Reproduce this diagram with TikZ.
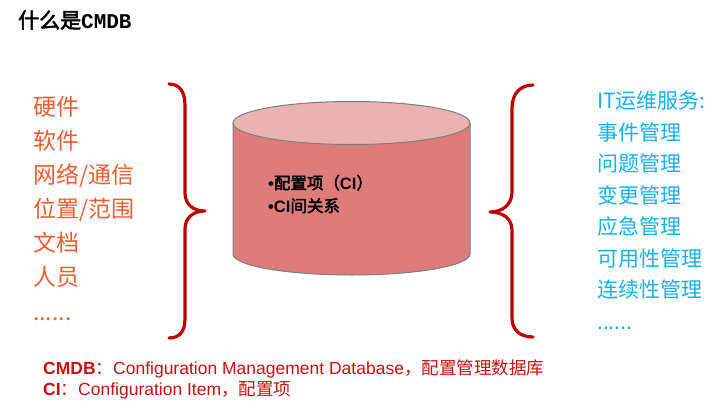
\documentclass[tikz,border=0pt]{standalone}
\usepackage{fontspec}
\setmainfont{Noto Sans CJK SC}[AutoFakeBold=2.5]
\newfontfamily\latinfont{Liberation Sans}
\setmonofont{Liberation Mono}
\usepackage{tikz}

\definecolor{itemorange}{RGB}{240,92,50}
\definecolor{itemblue}{RGB}{20,176,235}
\definecolor{bracered}{RGB}{192,0,0}
\definecolor{notered}{RGB}{200,16,16}
\definecolor{drumbody}{RGB}{222,124,124}
\definecolor{drumtop}{RGB}{235,178,178}
\definecolor{drumline}{RGB}{125,125,125}

\begin{document}
\begin{tikzpicture}[x=1pt, y=-1pt,
    leftitem/.style={anchor=base west, inner sep=0pt, text=itemorange, font=\fontsize{23}{23}\selectfont},
    rightitem/.style={anchor=base west, inner sep=0pt, text=itemblue, font=\fontsize{21}{21}\selectfont},
    drumtext/.style={anchor=base west, inner sep=0pt, font=\fontsize{16.5}{16.5}\selectfont\bfseries},
    noteline/.style={anchor=base west, inner sep=0pt, text=notered, font=\fontsize{17.5}{17.5}\selectfont},
    curly/.style={draw=bracered, line width=3.2pt, line cap=round, line join=round}]
                    \useasboundingbox (0,0) rectangle (721,407);
                    % title
                    \node[anchor=base west, inner sep=0pt, font=\fontsize{21}{21}\selectfont\bfseries] (title) at (18,28) {什么是{\ttfamily\bfseries CMDB}};
                    % left list
                    \node[leftitem] (hw) at (33,115) {硬件};
                    \node[leftitem] (sw) at (33,149) {软件};
                    \node[leftitem] (net) at (33,183) {网络/通信};
                    \node[leftitem] (loc) at (33,217) {位置/范围};
                    \node[leftitem] (doc) at (33,251) {文档};
                    \node[leftitem] (ppl) at (33,285) {人员};
                    \node[leftitem] (lmore) at (33,320) {......};
                    % braces
                    \draw[curly] (169,84) .. controls (180,84) and (185,92) .. (185,106) -- (185,193)
                        .. controls (185,205) and (194,211) .. (205,211)
                        .. controls (194,211) and (185,217) .. (185,229) -- (185,318)
                        .. controls (185,331) and (180,338) .. (169,338);
                    \draw[curly] (533,85) .. controls (520,85) and (512,94) .. (512,108) -- (512,192)
                        .. controls (512,205) and (502,212) .. (490,212)
                        .. controls (502,212) and (512,218) .. (512,230) -- (512,318)
                        .. controls (512,330) and (520,337) .. (533,337);
                    % database drum
                    \draw[drumline, fill=drumbody, line width=1pt] (233,123) -- (233,254)
                        arc[start angle=180, end angle=0, x radius=118.5, y radius=21] -- (470,123);
                    \draw[drumline, fill=drumtop, line width=1pt] (351.5,123) ellipse[x radius=118.5, y radius=21.5];
                    \node[drumtext] (ciitem) at (268,189) {{\latinfont•}配置项（{\latinfont CI}）};
                    \node[drumtext] (cirel) at (268,212) {{\latinfont•CI}间关系};
                    % right list
                    \node[rightitem] (itsvc) at (597,108) {IT运维服务:};
                    \node[rightitem] (incident) at (597,140) {事件管理};
                    \node[rightitem] (problem) at (597,171) {问题管理};
                    \node[rightitem] (change) at (597,203) {变更管理};
                    \node[rightitem] (emerg) at (597,234) {应急管理};
                    \node[rightitem] (avail) at (597,266) {可用性管理};
                    \node[rightitem] (contin) at (597,297) {连续性管理};
                    \node[rightitem] (rmore) at (597,329) {......};
                    % notes
                    \node[noteline] (cmdbnote) at (43,374) {{\latinfont\bfseries CMDB}：{\latinfont Configuration Management Database}，配置管理数据库};
                    \node[noteline] (cinote) at (43,395) {{\latinfont\bfseries CI}：{\latinfont Configuration Item}，配置项};
                \end{tikzpicture}
\end{document}
